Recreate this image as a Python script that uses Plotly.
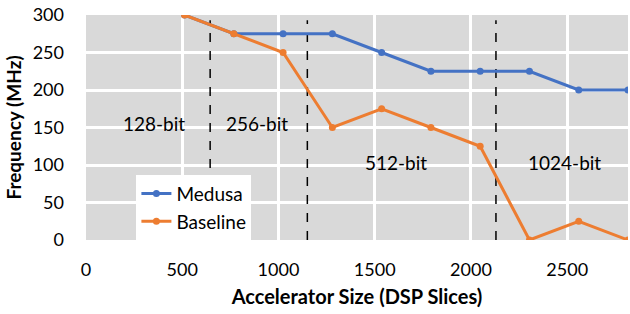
import plotly.graph_objects as go

dsp_slices = [512, 768, 1024, 1280, 1536, 1792, 2048, 2304, 2560, 2816]
medusa_mhz = [300, 275, 275, 275, 250, 225, 225, 225, 200, 200]
baseline_mhz = [300, 275, 250, 150, 175, 150, 125, 0, 25, 0]
boundaries = [645, 1150, 2130]
region_labels = ["128-bit", "256-bit", "512-bit", "1024-bit"]
region_x = [354, 890, 1610, 2485]
region_y = [156, 156, 103, 103]

FONT = "Lato"
fig = go.Figure()
for b in boundaries:
    fig.add_trace(go.Scatter(x=[b, b], y=[0, 293], mode="lines",
                             line=dict(color="black", width=1.5, dash="dash"),
                             showlegend=False, hoverinfo="skip"))
fig.add_trace(go.Scatter(x=dsp_slices, y=medusa_mhz, name="Medusa", mode="lines+markers",
                         line=dict(color="#4472C4", width=3), marker=dict(size=7)))
fig.add_trace(go.Scatter(x=dsp_slices, y=baseline_mhz, name="Baseline", mode="lines+markers",
                         line=dict(color="#ED7D31", width=3), marker=dict(size=7)))
for t, x, y in zip(region_labels, region_x, region_y):
    fig.add_annotation(x=x, y=y, text=t, showarrow=False,
                       font=dict(family=FONT, size=19, color="black"))

fig.update_layout(
    width=630, height=314,
    margin=dict(l=86, r=2, t=15, b=74),
    paper_bgcolor="white", plot_bgcolor="#D9D9D9",
    font=dict(family=FONT, size=18, color="black"),
    legend=dict(x=0.093, y=0.29, xanchor="left", yanchor="top",
                bgcolor="white", font=dict(size=19), tracegroupgap=0,
                itemwidth=30, borderwidth=0),
    xaxis=dict(range=[0, 2816], tickvals=[0, 500, 1000, 1500, 2000, 2500],
               showgrid=True, gridcolor="white", gridwidth=3, zeroline=False,
               showline=False, ticks="", ticklen=0, automargin=False,
               ticklabelstandoff=17,
               title=dict(text="<b>Accelerator Size (DSP Slices)</b>", standoff=10,
                          font=dict(size=20))),
    yaxis=dict(range=[0, 300], tickvals=[0, 50, 100, 150, 200, 250, 300],
               showgrid=True, gridcolor="white", gridwidth=3, zeroline=False,
               showline=False, ticks="", ticklen=0, automargin=False,
               ticklabelstandoff=21,
               title=dict(text="<b>Frequency (MHz)</b>", standoff=6,
                          font=dict(size=19))),
)
fig.write_html("out.html", config={"displayModeBar": False},
               post_script="document.body.style.margin='0';document.body.style.overflow='hidden';")
